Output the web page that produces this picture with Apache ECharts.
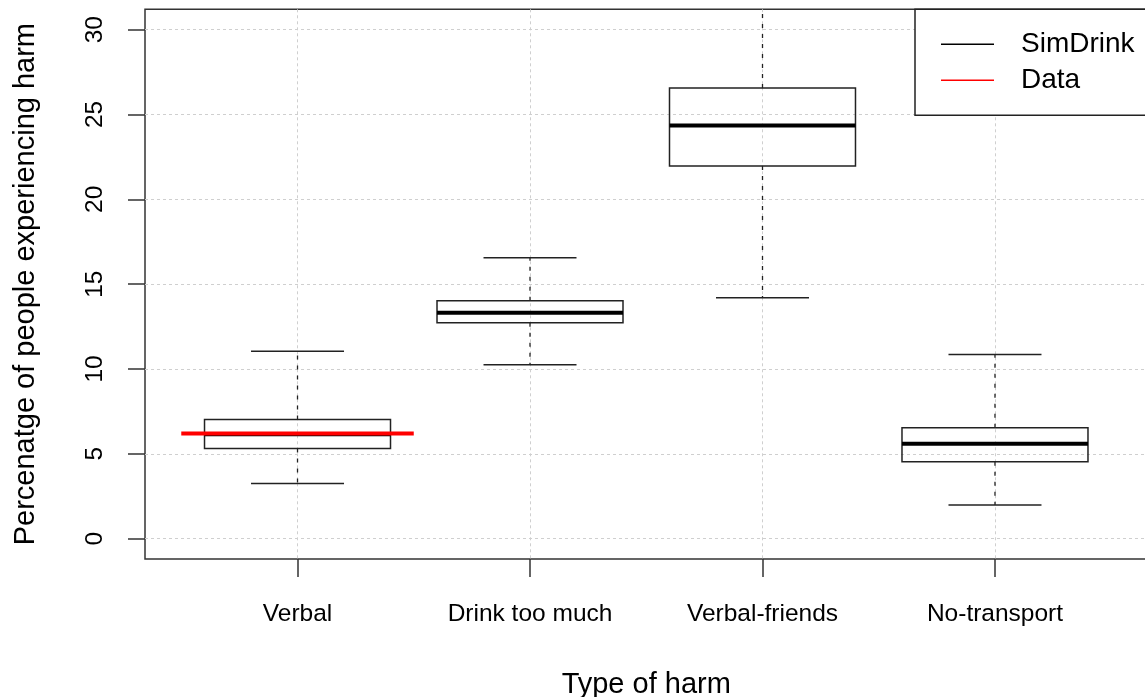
<!DOCTYPE html>
<html>
<head>
<meta charset="utf-8">
<script src="https://cdn.jsdelivr.net/npm/echarts@6/dist/echarts.min.js"></script>
<style>
  html, body { margin: 0; padding: 0; background: #ffffff; }
  #chart { width: 1145px; height: 697px; }
</style>
</head>
<body>
<div id="chart"></div>
<script>
// Harm categories on the x axis
const categories = ['Verbal', 'Drink too much', 'Verbal-friends', 'No-transport'];

// SimDrink simulated distribution summaries (%)
const whiskerLow  = [3.25, 10.25, 14.2, 1.98];
const q1          = [5.31, 12.72, 21.96, 4.53];
const medians     = [6.15, 13.31, 24.35, 5.59];
const q3          = [7.02, 14.02, 26.56, 6.53];
const whiskerHigh = [11.04, 16.55, 32.0, 10.85];

// Observed survey value (only for the first category)
const observed = [6.2, null, null, null];

// Tick positions
const yTicks = [0, 5, 10, 15, 20, 25, 30];
const xTicks = [1, 2, 3, 4];

const FONT = '"Liberation Sans", Arial, sans-serif';
const BOX_WIDTH = 0.8;
const STAPLE_WIDTH = 0.4;
const DATA_WIDTH = 1.0;

const boxData = categories.map((c, i) => [i + 1, whiskerLow[i], q1[i], medians[i], q3[i], whiskerHigh[i]]);
const obsData = [];
observed.forEach((v, i) => { if (v != null) obsData.push([i + 1, v]); });

function renderBox(params, api) {
  const x = api.value(0);
  const lo = api.value(1), lq = api.value(2), md = api.value(3), uq = api.value(4), hi = api.value(5);
  const halfBox = api.size([BOX_WIDTH / 2, 0])[0];
  const halfStaple = api.size([STAPLE_WIDTH / 2, 0])[0];
  const pLo = api.coord([x, lo]);
  const pQ1 = api.coord([x, lq]);
  const pMd = api.coord([x, md]);
  const pQ3 = api.coord([x, uq]);
  const pHi = api.coord([x, hi]);
  const cx = pMd[0];
  const dark = '#222';
  const whiskerStyle = { stroke: dark, lineWidth: 1.3, lineDash: [4, 6] };
  const solid = { stroke: dark, lineWidth: 1.5 };
  return {
    type: 'group',
    children: [
      { type: 'line', shape: { x1: cx, y1: pQ3[1], x2: cx, y2: pHi[1] }, style: whiskerStyle },
      { type: 'line', shape: { x1: cx, y1: pQ1[1], x2: cx, y2: pLo[1] }, style: whiskerStyle },
      { type: 'line', shape: { x1: cx - halfStaple, y1: pHi[1], x2: cx + halfStaple, y2: pHi[1] }, style: solid },
      { type: 'line', shape: { x1: cx - halfStaple, y1: pLo[1], x2: cx + halfStaple, y2: pLo[1] }, style: solid },
      { type: 'rect', shape: { x: cx - halfBox, y: pQ3[1], width: 2 * halfBox, height: pQ1[1] - pQ3[1] },
        style: { fill: 'rgba(255,255,255,0)', stroke: dark, lineWidth: 1.5 } },
      { type: 'line', shape: { x1: cx - halfBox, y1: pMd[1], x2: cx + halfBox, y2: pMd[1] },
        style: { stroke: '#000', lineWidth: 4 } }
    ]
  };
}

function renderObserved(params, api) {
  const x = api.value(0);
  const v = api.value(1);
  const half = api.size([DATA_WIDTH / 2, 0])[0];
  const p = api.coord([x, v]);
  return {
    type: 'line',
    shape: { x1: p[0] - half, y1: p[1], x2: p[0] + half, y2: p[1] },
    style: { stroke: '#ff0000', lineWidth: 4 }
  };
}

const chart = echarts.init(document.getElementById('chart'), null, { renderer: 'canvas' });

chart.setOption({
  animation: false,
  backgroundColor: '#ffffff',
  grid: {
    left: 145, top: 9.3, right: -2.5, bottom: 138,
    outerBoundsMode: 'none',
    containLabel: false,
    show: true, borderColor: '#333', borderWidth: 1.5, backgroundColor: 'transparent'
  },
  legend: {
    left: 915, top: 9.3,
    orient: 'vertical',
    icon: 'rect',
    itemWidth: 53, itemHeight: 1.5, itemGap: 0,
    padding: [17, 40, 17, 26],
    borderColor: '#222', borderWidth: 1.5,
    backgroundColor: '#ffffff',
    textStyle: { fontFamily: FONT, fontSize: 28, color: '#000', lineHeight: 31, padding: [5, 0, 0, 22] },
    data: ['SimDrink', 'Data']
  },
  xAxis: {
    type: 'value',
    min: 0.344, max: 4.656,
    name: 'Type of harm',
    nameLocation: 'middle',
    nameGap: 111,
    nameTextStyle: { fontFamily: FONT, fontSize: 29, color: '#000' },
    axisLine: { show: false, onZero: false },
    axisTick: { show: true, length: 18, customValues: xTicks, lineStyle: { color: '#333', width: 1.5 } },
    axisLabel: {
      customValues: xTicks,
      margin: 43,
      fontFamily: FONT, fontSize: 24.5, color: '#000',
      formatter: v => categories[Math.round(v) - 1] || ''
    },
    splitLine: { show: true, lineStyle: { color: '#cfcfcf', width: 1, type: [3, 3] } }
  },
  yAxis: {
    type: 'value',
    min: -1.2, max: 31.2,
    name: 'Percenatge of people experiencing harm',
    nameLocation: 'middle',
    nameGap: 105,
    nameTextStyle: { fontFamily: FONT, fontSize: 29, color: '#000' },
    axisLine: { show: false, onZero: false },
    axisTick: { show: true, length: 17, customValues: yTicks, lineStyle: { color: '#333', width: 1.5 } },
    axisLabel: {
      customValues: yTicks,
      rotate: 90,
      margin: 37,
      fontFamily: FONT, fontSize: 24.5, color: '#000'
    },
    splitLine: { show: true, lineStyle: { color: '#cfcfcf', width: 1, type: [3, 3] } }
  },
  series: [
    {
      name: 'SimDrink',
      type: 'custom',
      clip: true,
      itemStyle: { color: '#000' },
      renderItem: renderBox,
      encode: { x: 0, y: [1, 2, 3, 4, 5] },
      data: boxData,
      z: 2
    },
    {
      name: 'Data',
      type: 'custom',
      clip: true,
      itemStyle: { color: '#ff0000' },
      renderItem: renderObserved,
      encode: { x: 0, y: 1 },
      data: obsData,
      z: 3
    }
  ]
});
</script>
</body>
</html>
